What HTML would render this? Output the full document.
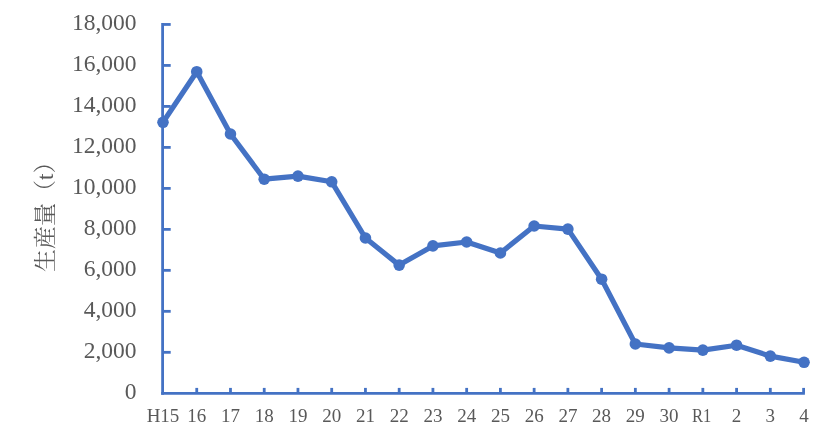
<!DOCTYPE html>
<html><head><meta charset="utf-8"><style>
html,body{margin:0;padding:0;background:#fff;}
svg{display:block;will-change:transform;}
.t{font-family:"Liberation Serif","Noto Serif CJK JP","Noto Serif CJK SC",serif;font-size:23.5px;fill:#595959;}
.x{font-family:"Liberation Serif","Noto Serif CJK JP","Noto Serif CJK SC",serif;font-size:19px;fill:#595959;}
.ti{font-family:"Liberation Serif","Noto Serif CJK JP","Noto Serif CJK SC",serif;font-size:23px;fill:#595959;}
</style></head><body>
<svg width="831" height="440" viewBox="0 0 831 440">
<rect width="831" height="440" fill="#fff"/>
<line x1="162.6" y1="23.05" x2="162.6" y2="394.70" stroke="#4472C4" stroke-width="2.8"/>
<text x="136.6" y="398.90" text-anchor="end" class="t">0</text>
<line x1="162.6" y1="352.32" x2="170.7" y2="352.32" stroke="#4472C4" stroke-width="2.8"/>
<text x="136.6" y="357.92" text-anchor="end" class="t">2,000</text>
<line x1="162.6" y1="311.33" x2="170.7" y2="311.33" stroke="#4472C4" stroke-width="2.8"/>
<text x="136.6" y="316.93" text-anchor="end" class="t">4,000</text>
<line x1="162.6" y1="270.35" x2="170.7" y2="270.35" stroke="#4472C4" stroke-width="2.8"/>
<text x="136.6" y="275.95" text-anchor="end" class="t">6,000</text>
<line x1="162.6" y1="229.37" x2="170.7" y2="229.37" stroke="#4472C4" stroke-width="2.8"/>
<text x="136.6" y="234.97" text-anchor="end" class="t">8,000</text>
<line x1="162.6" y1="188.38" x2="170.7" y2="188.38" stroke="#4472C4" stroke-width="2.8"/>
<text x="136.6" y="193.98" text-anchor="end" class="t">10,000</text>
<line x1="162.6" y1="147.40" x2="170.7" y2="147.40" stroke="#4472C4" stroke-width="2.8"/>
<text x="136.6" y="153.00" text-anchor="end" class="t">12,000</text>
<line x1="162.6" y1="106.42" x2="170.7" y2="106.42" stroke="#4472C4" stroke-width="2.8"/>
<text x="136.6" y="112.02" text-anchor="end" class="t">14,000</text>
<line x1="162.6" y1="65.43" x2="170.7" y2="65.43" stroke="#4472C4" stroke-width="2.8"/>
<text x="136.6" y="71.03" text-anchor="end" class="t">16,000</text>
<line x1="162.6" y1="24.45" x2="170.7" y2="24.45" stroke="#4472C4" stroke-width="2.8"/>
<text x="136.6" y="30.05" text-anchor="end" class="t">18,000</text>
<line x1="161.20" y1="393.30" x2="804.9" y2="393.30" stroke="#4472C4" stroke-width="2.8"/>
<line x1="196.74" y1="393.30" x2="196.74" y2="387.9" stroke="#4472C4" stroke-width="2.8"/>
<line x1="230.48" y1="393.30" x2="230.48" y2="387.9" stroke="#4472C4" stroke-width="2.8"/>
<line x1="264.22" y1="393.30" x2="264.22" y2="387.9" stroke="#4472C4" stroke-width="2.8"/>
<line x1="297.96" y1="393.30" x2="297.96" y2="387.9" stroke="#4472C4" stroke-width="2.8"/>
<line x1="331.70" y1="393.30" x2="331.70" y2="387.9" stroke="#4472C4" stroke-width="2.8"/>
<line x1="365.44" y1="393.30" x2="365.44" y2="387.9" stroke="#4472C4" stroke-width="2.8"/>
<line x1="399.18" y1="393.30" x2="399.18" y2="387.9" stroke="#4472C4" stroke-width="2.8"/>
<line x1="432.92" y1="393.30" x2="432.92" y2="387.9" stroke="#4472C4" stroke-width="2.8"/>
<line x1="466.66" y1="393.30" x2="466.66" y2="387.9" stroke="#4472C4" stroke-width="2.8"/>
<line x1="500.40" y1="393.30" x2="500.40" y2="387.9" stroke="#4472C4" stroke-width="2.8"/>
<line x1="534.14" y1="393.30" x2="534.14" y2="387.9" stroke="#4472C4" stroke-width="2.8"/>
<line x1="567.88" y1="393.30" x2="567.88" y2="387.9" stroke="#4472C4" stroke-width="2.8"/>
<line x1="601.62" y1="393.30" x2="601.62" y2="387.9" stroke="#4472C4" stroke-width="2.8"/>
<line x1="635.36" y1="393.30" x2="635.36" y2="387.9" stroke="#4472C4" stroke-width="2.8"/>
<line x1="669.10" y1="393.30" x2="669.10" y2="387.9" stroke="#4472C4" stroke-width="2.8"/>
<line x1="702.84" y1="393.30" x2="702.84" y2="387.9" stroke="#4472C4" stroke-width="2.8"/>
<line x1="736.58" y1="393.30" x2="736.58" y2="387.9" stroke="#4472C4" stroke-width="2.8"/>
<line x1="770.32" y1="393.30" x2="770.32" y2="387.9" stroke="#4472C4" stroke-width="2.8"/>
<line x1="803.60" y1="393.30" x2="803.60" y2="387.9" stroke="#4472C4" stroke-width="2.8"/>
<text x="163.00" y="422" text-anchor="middle" class="x">H15</text>
<text x="196.74" y="422" text-anchor="middle" class="x">16</text>
<text x="230.48" y="422" text-anchor="middle" class="x">17</text>
<text x="264.22" y="422" text-anchor="middle" class="x">18</text>
<text x="297.96" y="422" text-anchor="middle" class="x">19</text>
<text x="331.70" y="422" text-anchor="middle" class="x">20</text>
<text x="365.44" y="422" text-anchor="middle" class="x">21</text>
<text x="399.18" y="422" text-anchor="middle" class="x">22</text>
<text x="432.92" y="422" text-anchor="middle" class="x">23</text>
<text x="466.66" y="422" text-anchor="middle" class="x">24</text>
<text x="500.40" y="422" text-anchor="middle" class="x">25</text>
<text x="534.14" y="422" text-anchor="middle" class="x">26</text>
<text x="567.88" y="422" text-anchor="middle" class="x">27</text>
<text x="601.62" y="422" text-anchor="middle" class="x">28</text>
<text x="635.36" y="422" text-anchor="middle" class="x">29</text>
<text x="669.10" y="422" text-anchor="middle" class="x">30</text>
<text x="701.74" y="422" text-anchor="middle" class="x" textLength="19.4" lengthAdjust="spacingAndGlyphs">R1</text>
<text x="736.58" y="422" text-anchor="middle" class="x">2</text>
<text x="770.32" y="422" text-anchor="middle" class="x">3</text>
<text x="804.06" y="422" text-anchor="middle" class="x">4</text>
<polyline points="163.00,122.30 196.74,71.70 230.48,134.00 264.22,179.20 297.96,176.10 331.70,181.80 365.44,238.00 399.18,265.10 432.92,245.90 466.66,242.00 500.40,253.00 534.14,226.00 567.88,229.10 601.62,279.20 635.36,344.00 669.10,347.90 702.84,350.10 736.58,345.20 770.32,356.10 804.06,362.30" fill="none" stroke="#4472C4" stroke-width="5.2" stroke-linejoin="round"/>
<circle cx="163.00" cy="122.30" r="5.8" fill="#4472C4"/>
<circle cx="196.74" cy="71.70" r="5.8" fill="#4472C4"/>
<circle cx="230.48" cy="134.00" r="5.8" fill="#4472C4"/>
<circle cx="264.22" cy="179.20" r="5.8" fill="#4472C4"/>
<circle cx="297.96" cy="176.10" r="5.8" fill="#4472C4"/>
<circle cx="331.70" cy="181.80" r="5.8" fill="#4472C4"/>
<circle cx="365.44" cy="238.00" r="5.8" fill="#4472C4"/>
<circle cx="399.18" cy="265.10" r="5.8" fill="#4472C4"/>
<circle cx="432.92" cy="245.90" r="5.8" fill="#4472C4"/>
<circle cx="466.66" cy="242.00" r="5.8" fill="#4472C4"/>
<circle cx="500.40" cy="253.00" r="5.8" fill="#4472C4"/>
<circle cx="534.14" cy="226.00" r="5.8" fill="#4472C4"/>
<circle cx="567.88" cy="229.10" r="5.8" fill="#4472C4"/>
<circle cx="601.62" cy="279.20" r="5.8" fill="#4472C4"/>
<circle cx="635.36" cy="344.00" r="5.8" fill="#4472C4"/>
<circle cx="669.10" cy="347.90" r="5.8" fill="#4472C4"/>
<circle cx="702.84" cy="350.10" r="5.8" fill="#4472C4"/>
<circle cx="736.58" cy="345.20" r="5.8" fill="#4472C4"/>
<circle cx="770.32" cy="356.10" r="5.8" fill="#4472C4"/>
<circle cx="804.06" cy="362.30" r="5.8" fill="#4472C4"/>
<text transform="translate(52.5,211.2) rotate(-90)" text-anchor="middle" class="ti">生産量（t）</text>
</svg>
</body></html>
